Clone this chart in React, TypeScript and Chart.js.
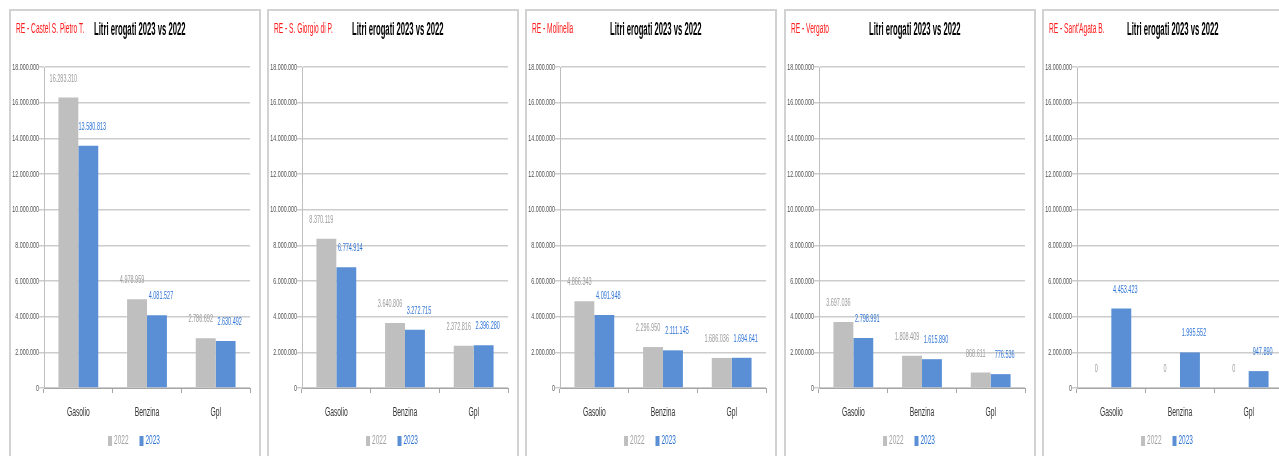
import React, { useEffect, useRef } from 'react';
import { Chart, registerables } from 'chart.js';

Chart.register(...registerables);

// ---- data ----
const categories = ['Gasolio', 'Benzina', 'Gpl'];
const seriesLabels = ['2022', '2023'];
const chartTitle = 'Litri erogati 2023 vs 2022';
const yMax = 18000000;
const yStep = 2000000;

const stationNames = [
  'RE - Castel S. Pietro T.',
  'RE - S. Giorgio di P.',
  'RE - Molinella',
  'RE - Vergato',
  "RE - Sant'Agata B.",
];

const castel2022 = [16283310, 4978959, 2786692];
const castel2023 = [13580813, 4081527, 2630492];
const giorgio2022 = [8370119, 3640806, 2372816];
const giorgio2023 = [6774914, 3272715, 2396280];
const molinella2022 = [4866343, 2296950, 1686036];
const molinella2023 = [4091948, 2111145, 1694641];
const vergato2022 = [3697036, 1808409, 868611];
const vergato2023 = [2798991, 1615890, 776536];
const agata2022 = [0, 0, 0];
const agata2023 = [4453423, 1995552, 947890];

const series2022 = [castel2022, giorgio2022, molinella2022, vergato2022, agata2022];
const series2023 = [castel2023, giorgio2023, molinella2023, vergato2023, agata2023];

// ---- styles ----
const panelLefts = [10, 268, 526, 785, 1043];
const PANEL_W = 250;
const CANVAS_H = 456;
const FONT = '"Liberation Sans", Arial, sans-serif';
const barColors = ['#bfbfbf', '#5a8fd6'];
const labelColors = ['#9a9a9a', '#2f74d4'];

function fmt(n: number): string {
  return Math.round(n).toString().replace(/\B(?=(\d{3})+(?!\d))/g, '.');
}

function drawText(
  ctx: CanvasRenderingContext2D,
  text: string,
  x: number,
  y: number,
  size: number,
  sx: number,
  color: string,
  align: CanvasTextAlign,
  baseline: CanvasTextBaseline = 'middle',
  weight: string = 'normal'
) {
  ctx.save();
  ctx.font = `${weight} ${size}px ${FONT}`;
  ctx.fillStyle = color;
  ctx.textAlign = align;
  ctx.textBaseline = baseline;
  ctx.translate(x, y);
  ctx.scale(sx, 1);
  ctx.fillText(text, 0, 0);
  ctx.restore();
}

function textWidth(ctx: CanvasRenderingContext2D, text: string, size: number, sx: number) {
  ctx.save();
  ctx.font = `normal ${size}px ${FONT}`;
  const w = ctx.measureText(text).width * sx;
  ctx.restore();
  return w;
}

const textPlugin = {
  id: 'panelTexts',
  afterDraw(chart: any, _args: any, opts: any) {
    const ctx: CanvasRenderingContext2D = chart.ctx;
    const { left, bottom } = chart.chartArea;
    const ys = chart.scales.y;
    const xs = chart.scales.x;

    // y tick labels
    ys.ticks.forEach((t: any) => {
      const py = ys.getPixelForValue(t.value);
      drawText(ctx, fmt(t.value), left - 5, py, 9.5, 0.56, '#505050', 'right');
    });

    // category labels
    (chart.data.labels as string[]).forEach((l, i) => {
      drawText(ctx, l, xs.getPixelForValue(i), bottom + 25, 12.5, 0.54, '#333333', 'center');
    });

    // data labels
    chart.data.datasets.forEach((ds: any, di: number) => {
      const meta = chart.getDatasetMeta(di);
      meta.data.forEach((bar: any, i: number) => {
        drawText(ctx, fmt(ds.data[i]), bar.x + (di === 0 ? -5 : 4), bar.y - 19, 11, 0.5, labelColors[di], 'center');
      });
    });

    // legend
    const lsize = 12.5;
    const lsx = 0.52;
    const boxW = 4;
    const gap = 2;
    const itemGap = 11;
    const widths = seriesLabels.map((s) => textWidth(ctx, s, lsize, lsx));
    const total = widths.reduce((a, w) => a + boxW + gap + w, 0) + itemGap * (seriesLabels.length - 1);
    let lx = chart.width / 2 - 1 - total / 2;
    const ly = 441;
    seriesLabels.forEach((s, i) => {
      ctx.fillStyle = barColors[i];
      ctx.fillRect(lx, ly - 5, boxW, 10);
      lx += boxW + gap;
      drawText(ctx, s, lx, ly, lsize, lsx, i === 0 ? '#a0a0a0' : '#2f74d4', 'left');
      lx += widths[i] + itemGap;
    });

    // titles
    drawText(ctx, opts.name, 6, 33, 14, 0.474, '#ff1a1a', 'left', 'alphabetic');
    drawText(ctx, chartTitle, 84, 34.5, 17.5, 0.44, '#000000', 'left', 'alphabetic', 'bold');
  },
};

function Panel({ index }: { index: number }) {
  const ref = useRef<HTMLCanvasElement | null>(null);

  useEffect(() => {
    if (!ref.current) return;
    const chart = new Chart(ref.current, {
      type: 'bar',
      data: {
        labels: categories,
        datasets: [
          {
            label: seriesLabels[0],
            data: series2022[index],
            backgroundColor: barColors[0],
            borderWidth: 0,
            categoryPercentage: 0.58,
            barPercentage: 1,
          },
          {
            label: seriesLabels[1],
            data: series2023[index],
            backgroundColor: barColors[1],
            borderWidth: 0,
            categoryPercentage: 0.58,
            barPercentage: 1,
          },
        ],
      },
      options: {
        animation: false,
        responsive: false,
        devicePixelRatio: 1,
        layout: { padding: { top: 67, right: 10, left: 0, bottom: 0 } },
        plugins: {
          legend: { display: false },
          tooltip: { enabled: false },
          title: { display: false },
          panelTexts: { name: stationNames[index] },
        } as any,
        scales: {
          x: {
            ticks: { display: false },
            grid: {
              display: true,
              drawOnChartArea: false,
              drawTicks: true,
              tickLength: 5,
              color: '#a6a6a6',
              offset: true,
            },
            border: { display: true, color: '#a6a6a6', width: 1 },
            afterFit: (s: any) => {
              s.height = 68;
            },
          },
          y: {
            min: 0,
            max: yMax,
            ticks: { display: false, stepSize: yStep },
            grid: { color: '#cccccc', lineWidth: 1.5, tickLength: 5, drawTicks: true },
            border: { display: true, color: '#bfbfbf', width: 1 },
            afterFit: (s: any) => {
              s.width = 34;
            },
          },
        },
      },
      plugins: [textPlugin],
    });
    return () => chart.destroy();
  }, [index]);

  const left = panelLefts[index];
  return (
    <>
      <div
        style={{
          position: 'absolute',
          left: left - 1,
          top: 9,
          width: PANEL_W + 2,
          height: 470,
          boxSizing: 'border-box',
          border: '2px solid #d2d2d2',
          background: '#ffffff',
        }}
      />
      <canvas
        ref={ref}
        width={PANEL_W}
        height={CANVAS_H}
        style={{ position: 'absolute', left, top: 0, width: PANEL_W, height: CANVAS_H, display: 'block' }}
      />
    </>
  );
}

export default function App() {
  return (
    <div
      style={{
        position: 'fixed',
        left: 0,
        top: 0,
        width: '100vw',
        height: '100vh',
        overflow: 'hidden',
        background: '#ffffff',
      }}
    >
      {stationNames.map((_, i) => (
        <Panel key={i} index={i} />
      ))}
    </div>
  );
}
